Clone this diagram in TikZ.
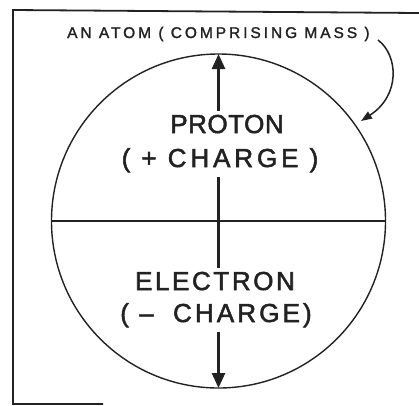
\documentclass[tikz,border=0pt]{standalone}
\usepackage{fontspec}
\setmainfont{Liberation Sans}
\newfontfamily\lblfont[LetterSpace=19,FakeBold=1.5]{Liberation Sans}
\newfontfamily\pfont[LetterSpace=2,FakeBold=2]{Liberation Sans}
\newfontfamily\pcfont[LetterSpace=15,FakeBold=2]{Liberation Sans}
\newfontfamily\efont[LetterSpace=10,FakeBold=2]{Liberation Sans}
\newfontfamily\ecfont[LetterSpace=12,FakeBold=2]{Liberation Sans}
\usetikzlibrary{arrows.meta}
\definecolor{inkc}{HTML}{222222}
\begin{document}
\begin{tikzpicture}[x=1pt,y=-1pt,
  frameline/.style={draw=inkc,line width=1.8pt},
  outline/.style={draw=inkc,line width=1.4pt},
  bigarrow/.style={draw=inkc,line width=2.6pt,-{Triangle[length=15pt,width=13pt]}},
  axis/.style={draw=inkc,line width=2.6pt},
  pointer/.style={draw=inkc,line width=1.5pt,-{Triangle[length=11pt,width=8pt]}},
  txt/.style={text=inkc,inner xsep=0pt,inner ysep=4pt,anchor=base},
  big/.style={txt,font=\fontsize{26}{28}\selectfont}]
\useasboundingbox (0,0) rectangle (419,405);
% frame
\draw[frameline] (103,404) -- (13,404) -- (13,10) -- (419,13);
% atom circle
\coordinate (c) at (218.5,221);
\coordinate (ctop) at (218.5,54);
\coordinate (cbot) at (218.5,388);
\coordinate (cl) at (51.5,221);
\coordinate (cr) at (385.5,221);
\draw[outline] (c) circle (167);
\draw[outline] (cl) -- (cr);
% texts
\node[txt,anchor=base west,font=\fontsize{15.5}{17}\selectfont\lblfont] (label) at (67,38) {AN ATOM ( COMPRISING MASS )};
\node[big,font=\fontsize{26}{28}\selectfont\pfont] (proton) at (227,133) {PROTON};
\node[big,font=\fontsize{26}{28}\selectfont\pcfont] (pcharge) at (220,167) {( + CHARGE )};
\node[big,font=\fontsize{26}{28}\selectfont\efont] (electron) at (215,290) {ELECTRON};
\node[big,font=\fontsize{26}{28}\selectfont\ecfont] (echarge) at (216,322) {( –\hspace{9pt} CHARGE)};
% axis and arrows
\draw[bigarrow] (c |- proton.north) -- (ctop);
\draw[axis] (c |- pcharge.south) -- (c |- electron.north);
\draw[bigarrow] (c |- echarge.south) -- (cbot);
% pointer from label to circle
\coordinate (mstart) at (378,40);
\coordinate (mtip) at (361,121);
\draw[pointer] (mstart) .. controls (398,55) and (401,95) .. (mtip);
\end{tikzpicture}
\end{document}
